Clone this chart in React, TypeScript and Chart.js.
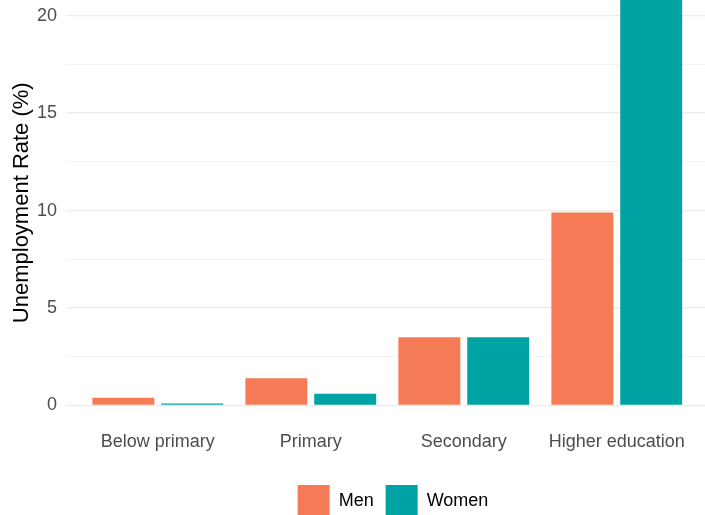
import React, { useEffect, useRef } from "react";
import { Chart, registerables } from "chart.js";

Chart.register(...registerables);

const categories = ["Below primary", "Primary", "Secondary", "Higher education"];
const men = [0.4, 1.4, 3.5, 9.9];
const women = [0.1, 0.6, 3.5, 21.5];
const seriesNames = ["Men", "Women"];
const yTicks = [0, 2.5, 5, 7.5, 10, 12.5, 15, 17.5, 20];

const FONT = "'Liberation Sans', Arial, Helvetica, sans-serif";

export default function App() {
  const ref = useRef<HTMLCanvasElement>(null);
  useEffect(() => {
    if (!ref.current) return;
    const chart = new Chart(ref.current, {
      type: "bar",
      data: {
        datasets: [
          {
            label: seriesNames[0],
            data: men.map((v, i) => ({ x: i, y: v })),
            backgroundColor: "#F47B55",
            categoryPercentage: 0.9,
            barPercentage: 0.9,
          },
          {
            label: seriesNames[1],
            data: women.map((v, i) => ({ x: i, y: v })),
            backgroundColor: "#00A3A3",
            categoryPercentage: 0.9,
            barPercentage: 0.9,
          },
        ],
      },
      options: {
        animation: false,
        responsive: false,
        maintainAspectRatio: false,
        layout: { padding: 0 },
        plugins: {
          tooltip: { enabled: false },
          legend: {
            position: "bottom",
            labels: {
              boxWidth: 32,
              boxHeight: 32,
              padding: 12,
              color: "#000000",
              font: { family: FONT, size: 18 },
            },
          },
        },
        scales: {
          x: {
            type: "linear",
            min: -0.6,
            max: 4.106,
            offset: false,
            grid: { display: false, drawTicks: false },
            border: { display: false },
            afterBuildTicks: (s: any) => {
              s.ticks = categories.map((_, i) => ({ value: i }));
            },
            afterFit: (s: any) => {
              s.height = 67.5;
              s.paddingLeft = 0;
              s.paddingRight = 0;
            },
            ticks: {
              autoSkip: false,
              maxRotation: 0,
              padding: 26,
              color: "#4D4D4D",
              font: { family: FONT, size: 18 },
              callback: (v: any) => categories[Math.round(Number(v))] ?? "",
            },
          },
          y: {
            min: 0,
            max: 20.8,
            border: { display: false },
            grid: {
              drawTicks: false,
              color: (ctx: any) =>
                ctx.tick && ctx.tick.value % 5 === 0 ? "#EBEBEB" : "#F3F3F3",
              lineWidth: (ctx: any) =>
                ctx.tick && ctx.tick.value % 5 === 0 ? 1.3 : 1,
            },
            afterBuildTicks: (s: any) => {
              s.ticks = yTicks.map((v) => ({ value: v }));
            },
            afterFit: (s: any) => {
              s.width = 66;
              s.paddingTop = 0;
              s.paddingBottom = 0;
            },
            ticks: {
              padding: 9,
              color: "#4D4D4D",
              font: { family: FONT, size: 18 },
              callback: (v: any) => (Number(v) % 5 === 0 ? String(v) : ""),
            },
            title: {
              display: true,
              text: "Unemployment Rate (%)",
              color: "#000000",
              font: { family: FONT, size: 22 },
              padding: { top: 9, bottom: 0 },
            },
          },
        },
      },
    });
    return () => chart.destroy();
  }, []);
  return (
    <div
      style={{
        position: "fixed",
        left: 0,
        top: 0,
        width: 705,
        height: 515,
        overflow: "hidden",
        background: "#ffffff",
      }}
    >
      <canvas ref={ref} width={786} height={527} style={{ display: "block" }} />
    </div>
  );
}
